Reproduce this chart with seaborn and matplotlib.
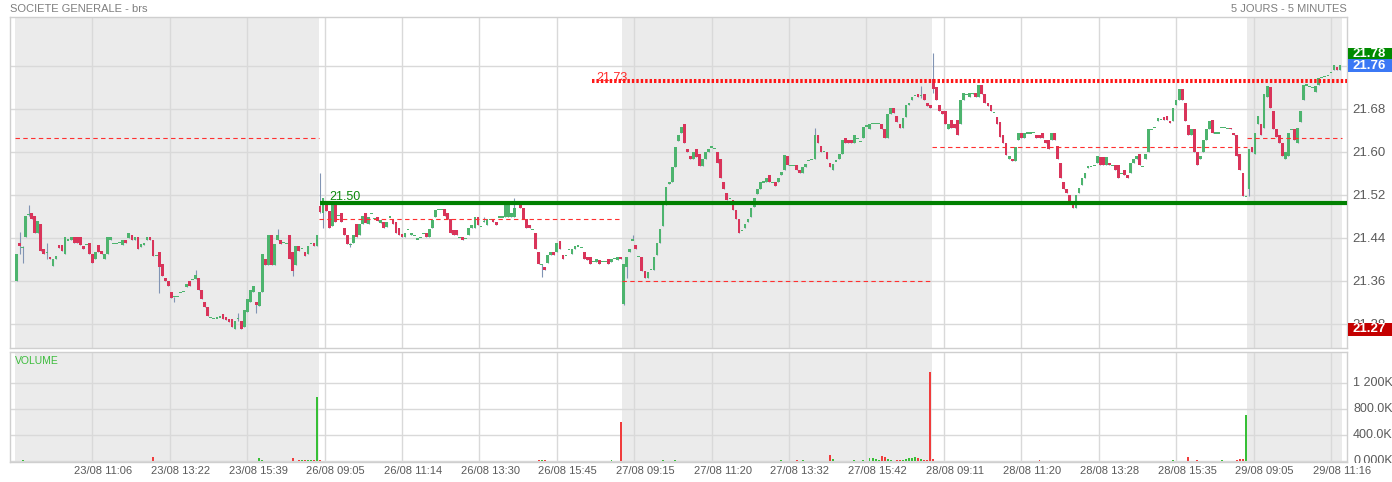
import numpy as np
import pandas as pd
import matplotlib
matplotlib.use("Agg")
import matplotlib.pyplot as plt
import matplotlib.transforms as mtransforms
from matplotlib.patches import Rectangle
import seaborn as sns

# Cours 5 minutes SOCIETE GENERALE (brs): (ouverture, cloture)
day1_oc = [
    (21.360, 21.410), (21.430, 21.425), (21.422, 21.422), (21.441, 21.481), (21.483, 21.485),
    (21.486, 21.476), (21.481, 21.450), (21.450, 21.472), (21.465, 21.415), (21.420, 21.410),
    (21.413, 21.413), (21.405, 21.400), (21.387, 21.400), (21.400, 21.406), (21.427, 21.422),
    (21.427, 21.416), (21.411, 21.441), (21.436, 21.436), (21.436, 21.441), (21.441, 21.431),
    (21.441, 21.430), (21.441, 21.427), (21.425, 21.420), (21.428, 21.428), (21.430, 21.410),
    (21.410, 21.394), (21.400, 21.414), (21.427, 21.414), (21.416, 21.411), (21.400, 21.410),
    (21.410, 21.441), (21.436, 21.441), (21.430, 21.430), (21.430, 21.430), (21.431, 21.431),
    (21.427, 21.436), (21.436, 21.430), (21.439, 21.450), (21.445, 21.436), (21.436, 21.441),
    (21.441, 21.420), (21.424, 21.429), (21.427, 21.431), (21.436, 21.441), (21.441, 21.436),
    (21.436, 21.406), (21.408, 21.408), (21.414, 21.386), (21.391, 21.369), (21.365, 21.360),
    (21.360, 21.350), (21.340, 21.329), (21.331, 21.331), (21.331, 21.331), (21.339, 21.339),
    (21.340, 21.340), (21.349, 21.355), (21.360, 21.350), (21.363, 21.363), (21.363, 21.371),
    (21.365, 21.344), (21.344, 21.326), (21.321, 21.311), (21.311, 21.295), (21.292, 21.292),
    (21.290, 21.290), (21.291, 21.291), (21.293, 21.293), (21.298, 21.290), (21.293, 21.287),
    (21.290, 21.284), (21.290, 21.275), (21.270, 21.286), (21.290, 21.290), (21.286, 21.270),
    (21.275, 21.306), (21.303, 21.326), (21.321, 21.344), (21.340, 21.350), (21.321, 21.315),
    (21.313, 21.340), (21.340, 21.410), (21.400, 21.389), (21.389, 21.445), (21.445, 21.389),
    (21.389, 21.429), (21.436, 21.445), (21.436, 21.429), (21.431, 21.431), (21.430, 21.430),
    (21.445, 21.400), (21.414, 21.379), (21.389, 21.425), (21.425, 21.416), (21.420, 21.420),
    (21.414, 21.406), (21.410, 21.425), (21.430, 21.430), (21.430, 21.425), (21.425, 21.445),
]
day2_oc = [
    (21.500, 21.489), (21.487, 21.515), (21.503, 21.490), (21.490, 21.459), (21.462, 21.503),
    (21.503, 21.470), (21.481, 21.481), (21.487, 21.470), (21.459, 21.445), (21.445, 21.429),
    (21.427, 21.427), (21.430, 21.445), (21.465, 21.441), (21.445, 21.465), (21.465, 21.481),
    (21.486, 21.467), (21.465, 21.479), (21.486, 21.486), (21.476, 21.476), (21.479, 21.472),
    (21.467, 21.473), (21.470, 21.458), (21.461, 21.470), (21.479, 21.479), (21.476, 21.465),
    (21.470, 21.450), (21.459, 21.445), (21.448, 21.441), (21.441, 21.450), (21.455, 21.455),
    (21.445, 21.450), (21.445, 21.445), (21.438, 21.438), (21.440, 21.440), (21.448, 21.448),
    (21.450, 21.441), (21.441, 21.456), (21.459, 21.474), (21.479, 21.492), (21.493, 21.493),
    (21.493, 21.493), (21.493, 21.481), (21.486, 21.476), (21.476, 21.450), (21.455, 21.445),
    (21.455, 21.445), (21.441, 21.441), (21.441, 21.436), (21.439, 21.439), (21.445, 21.459),
    (21.459, 21.464), (21.459, 21.479), (21.479, 21.464), (21.461, 21.461), (21.470, 21.470),
    (21.464, 21.476), (21.474, 21.474), (21.476, 21.470), (21.470, 21.464), (21.479, 21.479),
    (21.479, 21.479), (21.479, 21.501), (21.479, 21.501), (21.479, 21.486), (21.479, 21.495),
    (21.503, 21.503), (21.501, 21.495), (21.495, 21.476), (21.476, 21.459), (21.464, 21.458),
    (21.455, 21.455), (21.450, 21.420), (21.414, 21.391), (21.391, 21.391), (21.386, 21.380),
    (21.394, 21.408), (21.408, 21.414), (21.414, 21.408), (21.414, 21.430), (21.435, 21.420),
    (21.408, 21.400), (21.408, 21.408), (21.419, 21.419), (21.411, 21.420), (21.420, 21.425),
    (21.425, 21.425), (21.422, 21.422), (21.414, 21.400), (21.405, 21.399), (21.405, 21.391),
    (21.396, 21.396), (21.396, 21.400), (21.399, 21.391), (21.396, 21.396), (21.396, 21.396),
    (21.400, 21.391), (21.396, 21.400), (21.402, 21.402), (21.399, 21.405), (21.405, 21.400),
]
day3_oc = [
    (21.318, 21.391), (21.386, 21.405), (21.414, 21.420), (21.436, 21.436), (21.427, 21.420),
    (21.405, 21.405), (21.405, 21.379), (21.379, 21.365), (21.365, 21.377), (21.381, 21.381),
    (21.380, 21.405), (21.408, 21.430), (21.430, 21.456), (21.462, 21.501), (21.501, 21.535),
    (21.541, 21.544), (21.544, 21.571), (21.572, 21.609), (21.620, 21.631), (21.635, 21.647),
    (21.652, 21.617), (21.606, 21.600), (21.592, 21.586), (21.586, 21.600), (21.606, 21.591),
    (21.596, 21.574), (21.574, 21.586), (21.586, 21.600), (21.600, 21.606), (21.609, 21.609),
    (21.606, 21.606), (21.600, 21.580), (21.586, 21.551), (21.544, 21.530), (21.524, 21.510),
    (21.513, 21.513), (21.510, 21.492), (21.492, 21.476), (21.476, 21.450), (21.453, 21.453),
    (21.459, 21.465), (21.470, 21.476), (21.479, 21.495), (21.498, 21.515), (21.521, 21.530),
    (21.530, 21.543), (21.544, 21.544), (21.544, 21.551), (21.557, 21.543), (21.543, 21.543),
    (21.544, 21.536), (21.544, 21.551), (21.557, 21.563), (21.566, 21.594), (21.592, 21.575),
    (21.574, 21.574), (21.574, 21.574), (21.575, 21.566), (21.566, 21.560), (21.560, 21.572),
    (21.572, 21.578), (21.584, 21.584), (21.586, 21.586), (21.586, 21.631), (21.631, 21.616),
    (21.611, 21.600), (21.600, 21.600), (21.600, 21.586), (21.580, 21.571), (21.566, 21.578),
    (21.583, 21.583), (21.586, 21.596), (21.596, 21.622), (21.625, 21.616), (21.622, 21.616),
    (21.622, 21.616), (21.616, 21.631), (21.625, 21.625), (21.619, 21.619), (21.625, 21.646),
    (21.648, 21.648), (21.642, 21.652), (21.652, 21.652), (21.652, 21.652), (21.652, 21.652),
    (21.652, 21.643), (21.642, 21.625), (21.625, 21.671), (21.671, 21.681), (21.681, 21.673),
    (21.666, 21.656), (21.652, 21.645), (21.645, 21.662), (21.665, 21.687), (21.687, 21.691),
    (21.696, 21.701), (21.705, 21.705), (21.707, 21.701), (21.705, 21.705), (21.707, 21.696),
    (21.690, 21.685), (21.687, 21.681),
]
day4_oc = [
    (21.736, 21.716), (21.720, 21.696), (21.687, 21.675), (21.675, 21.671), (21.675, 21.652),
    (21.642, 21.652), (21.660, 21.645), (21.652, 21.645), (21.660, 21.631), (21.652, 21.696),
    (21.696, 21.710), (21.707, 21.707), (21.702, 21.710), (21.707, 21.710), (21.710, 21.702),
    (21.702, 21.724), (21.724, 21.707), (21.707, 21.690), (21.690, 21.685), (21.687, 21.675),
    (21.673, 21.673), (21.665, 21.652), (21.656, 21.627), (21.631, 21.616), (21.616, 21.594),
    (21.586, 21.592), (21.586, 21.582), (21.582, 21.609), (21.622, 21.635), (21.635, 21.625),
    (21.625, 21.635), (21.635, 21.635), (21.635, 21.635), (21.636, 21.636), (21.631, 21.625),
    (21.631, 21.625), (21.635, 21.625), (21.622, 21.617), (21.622, 21.606), (21.622, 21.635),
    (21.635, 21.622), (21.611, 21.586), (21.580, 21.551), (21.544, 21.530), (21.530, 21.524),
    (21.520, 21.509), (21.509, 21.495), (21.495, 21.520), (21.524, 21.532), (21.538, 21.551),
    (21.551, 21.561), (21.569, 21.574), (21.572, 21.572), (21.575, 21.575), (21.580, 21.592),
    (21.591, 21.575), (21.591, 21.575), (21.575, 21.591), (21.580, 21.575), (21.575, 21.575),
    (21.575, 21.567), (21.575, 21.551), (21.560, 21.560), (21.566, 21.557), (21.557, 21.551),
    (21.560, 21.580), (21.580, 21.586), (21.586, 21.592), (21.596, 21.575), (21.572, 21.572),
    (21.586, 21.596), (21.600, 21.642), (21.642, 21.642), (21.645, 21.645), (21.658, 21.662),
    (21.660, 21.660), (21.665, 21.660), (21.666, 21.660), (21.658, 21.653), (21.658, 21.681),
    (21.687, 21.696), (21.696, 21.716), (21.716, 21.696), (21.690, 21.658), (21.650, 21.631),
    (21.631, 21.642), (21.642, 21.600), (21.600, 21.575), (21.586, 21.592), (21.600, 21.622),
    (21.622, 21.642), (21.642, 21.658), (21.660, 21.635), (21.635, 21.635), (21.635, 21.635),
    (21.645, 21.645), (21.645, 21.645), (21.644, 21.644), (21.645, 21.642), (21.635, 21.631),
    (21.631, 21.592), (21.596, 21.566), (21.560, 21.517), (21.517, 21.517),
]
day5_oc = [
    (21.530, 21.606), (21.609, 21.600), (21.596, 21.635), (21.652, 21.666), (21.652, 21.631),
    (21.645, 21.707), (21.702, 21.722), (21.720, 21.681), (21.675, 21.642), (21.642, 21.627),
    (21.631, 21.617), (21.617, 21.592), (21.586, 21.600), (21.592, 21.635), (21.642, 21.642),
    (21.642, 21.622), (21.617, 21.645), (21.656, 21.675), (21.696, 21.724), (21.724, 21.724),
    (21.722, 21.722), (21.720, 21.720), (21.712, 21.722), (21.724, 21.738), (21.738, 21.738),
    (21.740, 21.740), (21.742, 21.742), (21.747, 21.747), (21.752, 21.761), (21.758, 21.752),
    (21.752, 21.761),
]

# plus hauts / plus bas visibles (meches), index global de la bougie : (bas, haut)
wicks = {
    1: (21.410, 21.451), 2: (21.393, 21.425), 4: (21.480, 21.501), 10: (21.400, 21.430),
    47: (21.337, 21.414), 52: (21.321, 21.331), 59: (21.363, 21.380), 73: (21.286, 21.300),
    79: (21.300, 21.321), 86: (21.436, 21.456), 91: (21.370, 21.414),
    100: (21.486, 21.561), 101: (21.458, 21.515), 110: (21.423, 21.430), 154: (21.470, 21.479),
    164: (21.479, 21.515), 173: (21.368, 21.391),
    200: (21.315, 21.391), 201: (21.365, 21.405), 203: (21.436, 21.445), 263: (21.586, 21.645),
    298: (21.700, 21.722),
    302: (21.710, 21.783),
    406: (21.517, 21.606),
}

# volumes en milliers de titres
day1_vol = [6, 4, 9, 8, 5, 3, 4, 6, 5, 3, 4, 3, 2, 5, 3, 4, 6, 2, 3, 4,
            3, 5, 2, 3, 4, 3, 2, 4, 3, 5, 2, 3, 2, 2, 3, 4, 2, 5, 3, 2,
            4, 3, 2, 3, 2, 60, 4, 6, 3, 5, 2, 3, 2, 2, 4, 3, 2, 5, 4, 3,
            4, 5, 3, 2, 2, 3, 2, 4, 3, 5, 4, 3, 6, 4, 5, 7, 8, 4, 6, 5,
            40, 12, 6, 8, 5, 4, 3, 6, 4, 5, 8, 40, 6, 10, 14, 18, 15, 16, 12, 985]
day2_vol = [15, 5, 4, 3, 5, 3, 2, 4, 3, 2, 3, 2, 4, 2, 3, 2, 3, 2, 2, 3,
            2, 3, 2, 2, 4, 3, 2, 3, 2, 2, 3, 2, 2, 2, 3, 2, 3, 4, 3, 2,
            2, 3, 2, 4, 3, 2, 2, 3, 2, 3, 2, 3, 2, 2, 3, 2, 2, 3, 2, 4,
            3, 2, 3, 2, 3, 4, 3, 5, 4, 3, 6, 8, 12, 14, 10, 5, 4, 3, 5, 4,
            3, 4, 3, 2, 3, 4, 5, 6, 4, 5, 3, 4, 5, 4, 6, 5, 10, 6, 4, 600]
day3_vol = [8, 6, 5, 4, 3, 4, 5, 3, 4, 3, 5, 6, 8, 15, 7, 6, 5, 20, 6, 5,
            4, 3, 4, 3, 2, 3, 4, 3, 2, 3, 2, 3, 2, 3, 2, 3, 4, 3, 2, 3,
            2, 3, 2, 3, 4, 2, 3, 2, 3, 2, 3, 2, 10, 3, 4, 3, 4, 15, 5, 12,
            4, 5, 6, 8, 5, 6, 7, 6, 92, 25, 6, 5, 8, 6, 5, 7, 10, 8, 6, 12,
            8, 40, 50, 38, 12, 80, 60, 25, 10, 8, 12, 10, 14, 35, 50, 45, 55, 40, 30, 12,
            20, 1370]
day4_vol = [30, 8, 5, 4, 3, 4, 3, 2, 3, 4, 3, 2, 3, 2, 3, 2, 2, 3, 2, 3,
            2, 3, 2, 2, 3, 2, 3, 2, 3, 2, 2, 3, 2, 2, 3, 10, 2, 3, 2, 3,
            2, 3, 4, 3, 2, 3, 2, 3, 2, 2, 3, 2, 2, 3, 2, 3, 2, 2, 3, 2,
            3, 2, 3, 2, 3, 4, 3, 2, 3, 2, 3, 4, 3, 4, 3, 5, 4, 3, 6, 12,
            5, 4, 6, 8, 55, 6, 5, 10, 6, 5, 4, 6, 5, 4, 5, 10, 6, 8, 6, 8,
            22, 30, 25, 708]
day5_vol = [8, 5, 4, 6, 3, 5, 4, 3, 4, 3, 2, 3, 4, 2, 3, 2, 3, 4, 3, 2,
            2, 3, 2, 3, 2, 2, 3, 2, 4, 3, 2]

day_ref = [21.625, 21.476, 21.360, 21.609, 21.625]   # pointilles rouges de chaque seance
support = 21.505
resistance = 21.732
last_price = 21.76
session_high = 21.78
session_low = 21.27

price_ticks = [21.28, 21.36, 21.44, 21.52, 21.60, 21.68, 21.76]
vol_ticks = [0, 400, 800, 1200]
vol_tick_labels = ["0.000K", "400.0K", "800.0K", "1 200K"]
time_labels = ["23/08 11:06", "23/08 13:22", "23/08 15:39", "26/08 09:05", "26/08 11:14",
               "26/08 13:30", "26/08 15:45", "27/08 09:15", "27/08 11:20", "27/08 13:32",
               "27/08 15:42", "28/08 09:11", "28/08 11:20", "28/08 13:28", "28/08 15:35",
               "29/08 09:05", "29/08 11:16"]

# ---- mise en forme des donnees
frames = []
for d, (oc, vol) in enumerate(zip([day1_oc, day2_oc, day3_oc, day4_oc, day5_oc],
                                  [day1_vol, day2_vol, day3_vol, day4_vol, day5_vol])):
    assert len(oc) == len(vol), (d, len(oc), len(vol))
    part = pd.DataFrame(oc, columns=["open", "close"])
    part["volume"] = vol
    part["day"] = d
    frames.append(part)
df = pd.concat(frames, ignore_index=True)
df["x"] = df.index
df["low"] = df[["open", "close"]].min(axis=1)
df["high"] = df[["open", "close"]].max(axis=1)
for i, (lo, hi) in wicks.items():
    df.loc[i, "low"] = min(lo, df.loc[i, "low"])
    df.loc[i, "high"] = max(hi, df.loc[i, "high"])
df["dir"] = np.where(df["close"] >= df["open"], "up", "down")

starts = df.groupby("day")["x"].min().to_numpy()
ends = df.groupby("day")["x"].max().to_numpy()

# ---- style
sns.set_theme(style="white")
plt.rcParams["font.family"] = ["Liberation Sans", "DejaVu Sans"]

UP, DOWN = "#4db46e", "#d9345a"
VOL_UP, VOL_DOWN = "#36bf36", "#f03c3c"
WICK = "#8194b4"
SHADE = "#ebebeb"
GRID = "#d9d9d9"
FRAME = "#cfcfcf"
TXT = "#5a5a5a"

W, H = 1392, 482
fig = plt.figure(figsize=(W / 100, H / 100), dpi=100)
fig.patch.set_facecolor("white")


def px_rect(x0, y0, x1, y1):
    return [x0 / W, 1 - y1 / H, (x1 - x0) / W, (y1 - y0) / H]


ax = fig.add_axes(px_rect(10, 17, 1347, 348))
axv = fig.add_axes(px_rect(10, 352, 1347, 462))

xlim = (-2.15, len(df) - 1 + 2.3)

for a in (ax, axv):
    for d in (0, 2, 4):
        a.axvspan(starts[d] - 0.5, ends[d] + 0.5, color=SHADE, lw=0, zorder=0)
    a.set_facecolor("white")
    for s in a.spines.values():
        s.set_color(FRAME)
        s.set_linewidth(1)

# ---- bougies
body_lo = df[["open", "close"]].min(axis=1).to_numpy()
body_h = (df["close"] - df["open"]).abs().to_numpy()
flat = body_h < 0.0022
body_lo = np.where(flat, (df["open"] + df["close"]).to_numpy() / 2 - 0.0011, body_lo)
body_h = np.where(flat, 0.0022, body_h)
colors = np.where(df["dir"] == "up", UP, DOWN)

ax.vlines(df["x"], df["low"], df["high"], color=WICK, lw=0.8, zorder=2)
ax.bar(df["x"], body_h, bottom=body_lo, width=0.9, color=colors, lw=0, zorder=3)

# niveaux
for d, lvl in enumerate(day_ref):
    ax.hlines(lvl, starts[d] - 0.5, ends[d] + 0.5, colors="#ff3030", lw=0.8,
              linestyles=(0, (4, 3)), zorder=4)
ax.hlines(support, starts[1], xlim[1], colors="#008000", lw=3.0, zorder=5)
ax.annotate(f"{support:.2f}"[:5], xy=(starts[1] + 3, support), xytext=(0, 2.5),
            textcoords="offset pixels", color="#0a8a0a", fontsize=9, va="baseline", zorder=6)
res = ax.hlines(resistance, 189.5, xlim[1], colors="#ff1515", lw=2.9, zorder=5,
                linestyles=(0, (0.6, 0.5)))
res.set_capstyle("butt")
ax.annotate(f"{resistance:.2f}", xy=(191, resistance), xytext=(0, -0.5),
            textcoords="offset pixels", color="#ff2a2a", fontsize=9, va="baseline", zorder=6)

ax.set_xlim(*xlim)
ax.set_ylim(21.2354, 21.8505)
ax.set_yticks(price_ticks)
ax.set_yticklabels([f"{p:.2f}" for p in price_ticks])
ax.yaxis.tick_right()
ax.tick_params(axis="y", length=0, pad=3.6, labelsize=9.5, labelcolor=TXT)
tick_pos = 25 + 25.5 * np.arange(len(time_labels))
ax.set_xticks(tick_pos)
ax.tick_params(axis="x", length=0, labelbottom=False)
ax.grid(True, color=GRID, lw=1)
ax.set_axisbelow(True)

# etiquettes de prix encadrees a droite
lab_tr = mtransforms.blended_transform_factory(fig.transFigure, ax.transData)
box_h = 13 / 538
for price, yoff, fc in [(session_high, 0.0015, "#008a00"), (last_price, 0.0, "#3b78f5"),
                        (session_low, 0.0, "#c40000")]:
    yc = price + yoff
    ax.add_patch(Rectangle((1348 / W, yc - box_h / 2), 44 / W, box_h, transform=lab_tr,
                           facecolor=fc, edgecolor="none", clip_on=False, zorder=20))
    ax.text(1369 / W, yc, f"{price:.2f}", transform=lab_tr, ha="center", va="center",
            color="white", fontsize=9.5, fontweight="bold", clip_on=False, zorder=21)

# ---- volumes
sns.barplot(data=df, x="x", y="volume", hue="dir", palette={"up": VOL_UP, "down": VOL_DOWN},
            native_scale=True, width=0.65, errorbar=None, legend=False, saturation=1,
            linewidth=0, ax=axv)
axv.set_xlim(*xlim)
axv.set_ylim(-15, 1677)
axv.set_yticks(vol_ticks)
axv.tick_params(axis="y", length=0, labelleft=False, labelright=False)
axv.set_xticks(tick_pos)
axv.tick_params(axis="x", length=0, labelbottom=False)
axv.grid(True, color=GRID, lw=1)
axv.set_axisbelow(True)
axv.set_xlabel("")
axv.set_ylabel("")

vol_tr = mtransforms.blended_transform_factory(fig.transFigure, axv.transData)
clip = mtransforms.TransformedBbox(mtransforms.Bbox([[1348 / W, 1 - 463 / H], [1.0, 1 - 350 / H]]),
                                   fig.transFigure)
for v, lab in zip(vol_ticks, vol_tick_labels):
    t = axv.text(1353 / W, v, lab, transform=vol_tr, ha="left", va="center",
                 color=TXT, fontsize=9, clip_on=True)
    t.set_clip_box(clip)

lab_x = mtransforms.blended_transform_factory(axv.transData, fig.transFigure)
for pos, lab in zip(tick_pos, time_labels):
    axv.text(pos + 3.6, 1 - 471 / H, lab, transform=lab_x, ha="center", va="center",
             color=TXT, fontsize=8, clip_on=False)

fig.text(15 / W, 1 - 361 / H, "VOLUME", color="#3cbc3c", fontsize=7.5, va="center")
fig.text(10 / W, 1 - 9 / H, "SOCIETE GENERALE - brs", color="#7f7f7f", fontsize=8, va="center")
fig.text(1347 / W, 1 - 9 / H, "5 JOURS - 5 MINUTES", color="#7f7f7f", fontsize=8,
         va="center", ha="right")

fig.savefig("out.png", dpi=100, facecolor="white")
